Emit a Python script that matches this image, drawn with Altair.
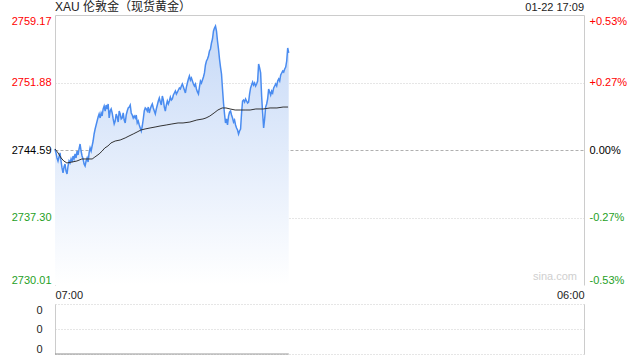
import altair as alt
import pandas as pd

FONT = "'Liberation Sans', Arial, 'Noto Sans CJK SC', sans-serif"

title_text = "XAU 伦敦金（现货黄金）"
stamp_text = "01-22 17:09"
watermark = "sina.com"
prev_close = 2744.59
price_ticks = [2730.01, 2737.30, 2744.59, 2751.88, 2759.17]
vol_ticks = [0, 0.2, 0.4]
session_day = "2025-01-22"
session_start = "2025-01-22 07:00"
sample_step = "157s"

# minute price samples from 07:00 to 17:09
price = [
    2744.70, 2744.27, 2743.73, 2743.40, 2743.83, 2744.27, 2743.40, 2742.65, 2742.11, 2742.75,
    2743.08, 2742.32, 2742.00, 2742.86, 2743.40, 2743.19, 2743.62, 2743.29, 2743.94, 2743.62,
    2744.16, 2743.73, 2744.48, 2744.05, 2744.70, 2745.24, 2744.48, 2743.94, 2743.62, 2743.08,
    2742.86, 2743.40, 2743.73, 2743.29, 2744.27, 2744.81, 2744.48, 2745.02, 2745.56, 2746.32,
    2746.86, 2747.29, 2747.72, 2748.15, 2748.48, 2748.05, 2748.59, 2748.26, 2749.02, 2749.34,
    2748.80, 2749.45, 2749.02, 2749.56, 2748.05, 2748.80, 2749.02, 2748.59, 2747.94, 2747.40,
    2747.72, 2748.48, 2748.15, 2747.61, 2748.80, 2748.48, 2747.94, 2748.05, 2748.59, 2747.83,
    2747.51, 2748.37, 2748.80, 2749.13, 2749.23, 2749.45, 2748.59, 2748.37, 2748.05, 2748.26,
    2748.05, 2748.37, 2747.51, 2747.72, 2747.29, 2746.97, 2746.64, 2747.18, 2747.94, 2748.80,
    2749.13, 2749.02, 2748.80, 2749.23, 2748.59, 2749.02, 2749.34, 2749.56, 2749.13, 2748.80,
    2748.48, 2749.02, 2749.45, 2749.88, 2750.21, 2749.77, 2749.45, 2750.42, 2749.99, 2749.23,
    2748.80, 2749.45, 2749.88, 2749.56, 2749.88, 2750.31, 2749.99, 2750.10, 2750.53, 2750.75,
    2750.96, 2750.64, 2750.85, 2751.07, 2751.29, 2751.18, 2751.50, 2751.72, 2751.39, 2751.07,
    2750.75, 2751.39, 2751.83, 2752.26, 2752.58, 2752.15, 2752.37, 2752.04, 2751.72, 2751.50,
    2751.72, 2751.18, 2750.85, 2750.64, 2751.39, 2752.04, 2751.83, 2752.15, 2752.47, 2752.91,
    2753.77, 2754.20, 2754.42, 2754.74, 2755.28, 2755.50, 2756.15, 2756.58, 2757.44, 2757.77,
    2757.98, 2757.44, 2756.36, 2755.50, 2754.42, 2753.55, 2752.80, 2751.18, 2749.67, 2748.48,
    2747.51, 2747.94, 2747.29, 2748.26, 2748.69, 2748.80, 2748.37, 2748.05, 2747.61, 2747.83,
    2747.29, 2746.97, 2746.75, 2746.32, 2746.64, 2746.86, 2748.59, 2749.88, 2749.99, 2749.77,
    2750.10, 2749.88, 2749.67, 2749.77, 2750.64, 2751.29, 2751.61, 2751.93, 2751.61, 2751.83,
    2751.50, 2751.72, 2752.04, 2753.88, 2753.45, 2752.91, 2750.42, 2748.59, 2746.97, 2747.94,
    2749.23, 2749.56, 2750.10, 2751.18, 2750.85, 2750.53, 2750.96, 2750.75, 2751.29, 2751.50,
    2751.72, 2751.50, 2752.04, 2752.26, 2752.04, 2752.69, 2752.91, 2753.12, 2753.01, 2753.34,
    2753.55, 2754.20, 2755.61, 2755.07,
]

avg_time = [
    "07:00", "07:08", "07:16", "07:23", "07:31", "07:44", "07:57", "08:10", "08:23", "08:37",
    "08:44", "08:55", "09:03", "09:10", "09:18", "09:26", "09:37", "09:50", "10:03", "10:13",
    "10:24", "10:34", "10:44", "10:55", "11:08", "11:21", "11:34", "11:50", "12:05", "12:21",
    "12:34", "12:52", "13:10", "13:26", "13:34", "13:44", "13:55", "14:05", "14:16", "14:26",
    "14:37", "14:50", "15:03", "15:16", "15:29", "15:44", "16:03", "16:21", "16:39", "16:55",
    "17:08",
]
avg_price = [
    2744.70, 2744.27, 2743.73, 2743.40, 2743.19, 2743.29, 2743.40, 2743.62, 2743.62, 2743.62,
    2743.83, 2744.16, 2744.48, 2744.81, 2745.02, 2745.35, 2745.56, 2745.67, 2745.89, 2746.10,
    2746.32, 2746.53, 2746.75, 2746.86, 2746.97, 2747.07, 2747.18, 2747.29, 2747.40, 2747.51,
    2747.51, 2747.61, 2747.83, 2747.94, 2748.05, 2748.26, 2748.59, 2748.91, 2749.13, 2749.13,
    2749.02, 2748.91, 2748.91, 2748.91, 2748.91, 2749.02, 2749.02, 2749.13, 2749.13, 2749.23,
    2749.23,
]

times = pd.date_range(session_start, periods=len(price), freq=sample_step)
df = pd.DataFrame({"t": times, "price": price, "vol": [0] * len(price)})
adf = pd.DataFrame({"t": pd.to_datetime([session_day + " " + s for s in avg_time]), "avg": avg_price})

W, H = 529, 270
VH = 50

xdom = [alt.DateTime(year=2025, month=1, date=22, hours=7),
        alt.DateTime(year=2025, month=1, date=23, hours=6)]
xscale = alt.Scale(domain=xdom)
yscale = alt.Scale(domain=[price_ticks[0], price_ticks[-1]], zero=False, nice=False)

RED, GREEN, BLACK = "#ff0000", "#1f9f1f", "#000000"
label_color = {
    "condition": [
        {"test": f"datum.value > {prev_close}", "value": RED},
        {"test": f"datum.value < {prev_close}", "value": GREEN},
    ],
    "value": BLACK,
}

x_axis = alt.Axis(values=xdom, format="%H:%M", labelFlush=True, ticks=False, domain=False,
                  grid=False, labelPadding=4, labelFont=FONT, labelFontSize=11,
                  labelColor="#222", labelOverlap=False, title=None)
x_enc = alt.X("t:T", scale=xscale, axis=x_axis)
x_noaxis = alt.X("t:T", scale=xscale, axis=None)

left_axis = alt.Axis(
    values=price_ticks, format=".2f", labelFlush=True, ticks=False, domain=True,
    domainColor="#ccc", grid=True, tickCount=10, labelOverlap=False,
    gridColor={"condition": {"test": f"datum.value == {prev_close}", "value": "#b0b0b0"}, "value": "#cccccc"},
    gridDash={"condition": [
        {"test": f"datum.value >= {price_ticks[-1]}", "value": []},
        {"test": f"datum.value == {prev_close}", "value": [3, 2]},
    ], "value": [1, 2]},
    gridOpacity={"condition": {"test": f"datum.value <= {price_ticks[0]}", "value": 0}, "value": 1},
    labelColor=label_color, labelPadding=4, labelFont=FONT, labelFontSize=11, title=None,
)
y_enc = alt.Y("price:Q", scale=yscale, axis=left_axis)

gradient = alt.Gradient(
    gradient="linear",
    stops=[alt.GradientStop(color="#c6d9f7", offset=0), alt.GradientStop(color="#ffffff", offset=1)],
    x1=1, x2=1, y1=0, y2=1,
)

area = alt.Chart(df).mark_area(color=gradient).encode(
    x=x_enc, y=y_enc, y2=alt.datum(price_ticks[0]))
line = alt.Chart(df).mark_line(color="#4a8cf0", strokeWidth=1.5).encode(x=x_enc, y=y_enc)
avg = alt.Chart(adf).mark_line(color="#333333", strokeWidth=1).encode(
    x=x_enc, y=alt.Y("avg:Q", scale=yscale, axis=left_axis))

wm = alt.Chart(pd.DataFrame({"s": [watermark]})).mark_text(
    align="right", baseline="bottom", font=FONT, fontSize=11, color="#cfcfcf"
).encode(text="s:N", x=alt.value(W - 7), y=alt.value(H - 3))
ttl = alt.Chart(pd.DataFrame({"s": [title_text]})).mark_text(
    align="left", baseline="alphabetic", font=FONT, fontSize=12, color="#222"
).encode(text="s:N", x=alt.value(0), y=alt.value(-4))
stamp = alt.Chart(pd.DataFrame({"s": [stamp_text]})).mark_text(
    align="right", baseline="alphabetic", font=FONT, fontSize=11, color="#222"
).encode(text="s:N", x=alt.value(W), y=alt.value(-4))

right_axis = alt.Axis(
    orient="right", values=price_ticks, labelFlush=True, ticks=False, grid=False,
    domain=True, domainColor="#ccc", labelPadding=5, labelFont=FONT, labelFontSize=11,
    labelColor=label_color, title=None, tickCount=10, labelOverlap=False,
    labelExpr=(f"(datum.value > {prev_close} ? '+' : datum.value < {prev_close} ? '-' : '') + "
               f"format(abs(datum.value - {prev_close}) / {prev_close}, '.2%')"),
)
right = alt.Chart(df).mark_line(strokeOpacity=0).encode(
    x=x_enc, y=alt.Y("price:Q", scale=yscale, axis=right_axis))

inner = alt.layer(area, line, avg, wm, ttl, stamp)
main = alt.layer(inner, right).resolve_scale(y="independent").properties(width=W, height=H)

vscale = alt.Scale(domain=[vol_ticks[0], vol_ticks[-1]], nice=False)
vol_axis = alt.Axis(values=vol_ticks, format=".0f", labelFlush=True, ticks=False, domain=True,
                    domainColor="#ccc", grid=True, gridColor="#cccccc", gridDash=[1, 2],
                    tickCount=10, labelOverlap=False,
                    labelPadding=13, labelFont=FONT, labelFontSize=11, labelColor="#222",
                    title=None)
vol_line = alt.Chart(df).mark_line(color="#8c8c8c", strokeWidth=1).encode(
    x=x_noaxis, y=alt.Y("vol:Q", scale=vscale, axis=vol_axis))
vol_right = alt.Chart(df).mark_line(strokeOpacity=0).encode(
    x=x_noaxis, y=alt.Y("vol:Q", scale=vscale,
                        axis=alt.Axis(orient="right", labels=False, ticks=False, grid=False,
                                      domain=True, domainColor="#ccc", title=None)))
vol = alt.layer(vol_line, vol_right).resolve_scale(y="independent").properties(width=W, height=VH)

chart = alt.vconcat(main, vol, spacing=4).properties(
    padding={"left": 11, "top": 1, "right": 5, "bottom": 2},
    background="white",
).configure_view(stroke=None)

chart.save("out.html", embed_options={"renderer": "svg", "actions": False})
